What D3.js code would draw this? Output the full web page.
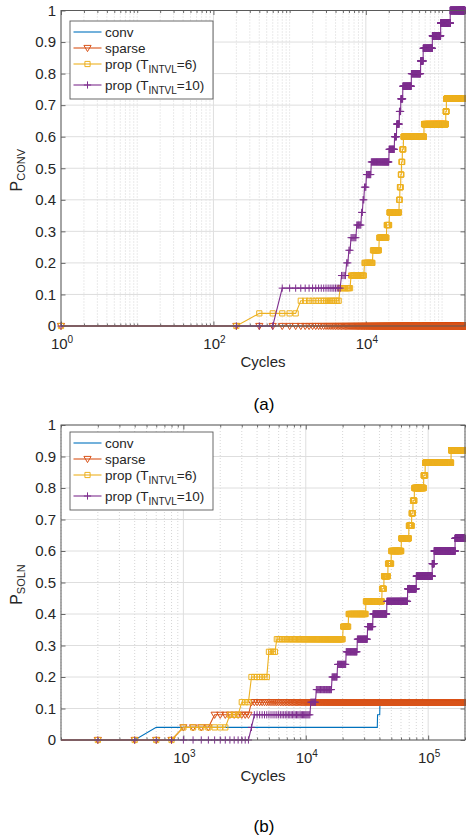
<!DOCTYPE html>
<html lang="en">
	<head>
		<meta charset="utf-8">
		<title>D3: P_CONV and P_SOLN vs cycles</title>
		<script type="text/javascript" src="https://cdn.jsdelivr.net/npm/d3@7"></script>
		<style type="text/css">
			body { margin: 0; background: white; }
			svg { display: block; font-family: "Liberation Sans", Arial, sans-serif; }
		</style>
	</head>
	<body>
		<script type="text/javascript">

			//Runs were sampled every 200 cycles, up to 2e5
			var sampleStep = 200;
			var lastCycle = 200000;

			//Series colours / markers (legend order)
			var seriesColors = ["#0072BD", "#D95319", "#EDB120", "#7E2F8E"];
			var seriesMarkers = ["none", "triangle", "square", "plus"];
			var legendMain = ["conv", "sparse", "prop (T", "prop (T"];
			var legendSub = ["", "", "INTVL", "INTVL"];
			var legendTail = ["", "", "=6)", "=10)"];

			//Tick values and labels
			var yTicks = [0, 0.1, 0.2, 0.3, 0.4, 0.5, 0.6, 0.7, 0.8, 0.9, 1];
			var yTickLabels = ["0", "0.1", "0.2", "0.3", "0.4", "0.5", "0.6", "0.7", "0.8", "0.9", "1"];
			var xTicksA = [1, 100, 10000];
			var xTickExpA = ["0", "2", "4"];
			var xTicksB = [1000, 10000, 100000];
			var xTickExpB = ["3", "4", "5"];

			//(a) P_CONV: [cycle at which the fraction is first reached, fraction]
			var convA = [[1, 0]];
			var sparseA = [[1, 0]];
			var prop6A = [[1, 0], [400, 0.04], [1400, 0.08], [4600, 0.12], [6400, 0.16], [9600, 0.20],
				[12400, 0.24], [15000, 0.28], [18800, 0.32], [20400, 0.36], [27400, 0.40], [28000, 0.44],
				[28800, 0.48], [29400, 0.52], [30200, 0.56], [31200, 0.60], [58000, 0.64], [112000, 0.68],
				[114000, 0.72]];
			var prop10A = [[1, 0], [800, 0.12], [4800, 0.16], [5600, 0.20], [6000, 0.24], [6400, 0.28],
				[7600, 0.32], [8800, 0.36], [9200, 0.40], [9600, 0.44], [10200, 0.48], [11800, 0.52],
				[20200, 0.56], [23800, 0.60], [25400, 0.64], [27600, 0.68], [28800, 0.72], [30600, 0.76],
				[39600, 0.80], [52400, 0.84], [56600, 0.88], [74600, 0.92], [96000, 0.96], [128000, 1.00]];

			//(b) P_SOLN
			var convB = [[1, 0], [600, 0.04], [38600, 0.08], [40400, 0.12]];
			var sparseB = [[1, 0], [1000, 0.04], [1800, 0.08], [3600, 0.12]];
			var prop6B = [[1, 0], [1000, 0.04], [2400, 0.08], [3000, 0.12], [3600, 0.20], [5000, 0.28],
				[5800, 0.32], [20200, 0.36], [22400, 0.40], [31000, 0.44], [42000, 0.48], [43600, 0.52],
				[47000, 0.56], [50000, 0.60], [60400, 0.64], [69600, 0.68], [73400, 0.72], [75200, 0.76],
				[77200, 0.80], [92000, 0.84], [94600, 0.88], [154000, 0.92]];
			var prop10B = [[1, 0], [3600, 0.04], [3800, 0.08], [11000, 0.12], [12200, 0.16], [16400, 0.20],
				[18200, 0.24], [21400, 0.28], [26400, 0.32], [32000, 0.36], [35400, 0.40], [46000, 0.44],
				[68000, 0.48], [80000, 0.52], [108000, 0.56], [112000, 0.60], [166000, 0.64]];

			//Width and height
			var w = 466;
			var h = 837;
			var plotLeft = 61;
			var plotRight = 465;
			var axisColor = "#262626";
			var boxColor = "#5a5a5a";

			var svg = d3.select("body")
						.append("svg")
						.attr("width", w)
						.attr("height", h);

			var sampleCycles = [1].concat(d3.range(sampleStep, lastCycle + 1, sampleStep));

			//fraction recorded at cycle c
			function valueAt(steps, c) {
				var v = 0;
				steps.forEach(function(s) { if (s[0] <= c) v = s[1]; });
				return v;
			}

			function markerPath(type, px, py) {
				if (type == "triangle") return "M" + (px - 3.6) + "," + (py - 2.6) + "h7.2l-3.6,6.2z";
				if (type == "square") return "M" + (px - 2.6) + "," + (py - 2.6) + "h5.2v5.2h-5.2z";
				if (type == "plus") return "M" + (px - 3.6) + "," + py + "h7.2M" + px + "," + (py - 3.6) + "v7.2";
				return "";
			}

			function drawPanel(p) {
				var x = d3.scaleLog().domain(p.xDomain).range([plotLeft, plotRight]);
				var y = d3.scaleLinear().domain([0, 1]).range([p.bottom, p.top]);
				var g = svg.append("g");

				var minor = x.ticks().filter(function(t) { return p.xTicks.indexOf(t) < 0; });

				//grid
				g.selectAll(".minor").data(minor).enter().append("line")
					.attr("x1", function(d) { return x(d); })
					.attr("x2", function(d) { return x(d); })
					.attr("y1", p.top).attr("y2", p.bottom)
					.attr("stroke", "#c4c4c4").attr("stroke-width", 0.7)
					.attr("stroke-dasharray", "1,2");
				g.selectAll(".xmajor").data(p.xTicks).enter().append("line")
					.attr("x1", function(d) { return x(d); })
					.attr("x2", function(d) { return x(d); })
					.attr("y1", p.top).attr("y2", p.bottom)
					.attr("stroke", "#dedede").attr("stroke-width", 1);
				g.selectAll(".ymajor").data(yTicks).enter().append("line")
					.attr("x1", plotLeft).attr("x2", plotRight)
					.attr("y1", function(d) { return y(d); })
					.attr("y2", function(d) { return y(d); })
					.attr("stroke", "#dedede").attr("stroke-width", 1);

				//axes, ticks pointing inward
				var axes = g.append("g").attr("class", "axes");
				axes.append("g").attr("transform", "translate(0," + p.bottom + ")")
					.call(d3.axisBottom(x).tickValues(minor).tickSize(-2.5).tickFormat(""));
				axes.append("g").attr("transform", "translate(0," + p.bottom + ")")
					.call(d3.axisBottom(x).tickValues(p.xTicks).tickSize(-4.5).tickFormat(""));
				axes.append("g").attr("transform", "translate(0," + p.top + ")")
					.call(d3.axisTop(x).tickValues(minor).tickSize(-2.5).tickFormat(""));
				axes.append("g").attr("transform", "translate(0," + p.top + ")")
					.call(d3.axisTop(x).tickValues(p.xTicks).tickSize(-4.5).tickFormat(""));
				axes.append("g").attr("transform", "translate(" + plotLeft + ",0)")
					.call(d3.axisLeft(y).tickValues(yTicks).tickSize(-4.5).tickPadding(5)
						.tickFormat(function(d, i) { return yTickLabels[i]; }));
				axes.append("g").attr("transform", "translate(" + plotRight + ",0)")
					.call(d3.axisRight(y).tickValues(yTicks).tickSize(-4.5).tickFormat(""));
				axes.selectAll(".domain").remove();
				axes.selectAll("line").attr("stroke", boxColor).attr("stroke-width", 0.9);
				axes.selectAll("text").attr("font-size", "15px")
					.attr("font-family", "Liberation Sans, Arial, sans-serif").attr("fill", axisColor);

				//x tick labels 10^n
				p.xTicks.forEach(function(t, i) {
					var tx = g.append("text")
						.attr("x", x(t) + 1)
						.attr("y", p.bottom + 23)
						.attr("text-anchor", "middle")
						.attr("font-size", "15px")
						.attr("fill", axisColor);
					tx.append("tspan").text("10");
					tx.append("tspan").attr("font-size", "10px").attr("dy", -6).text(p.xExp[i]);
				});

				//clip lines to the plot, markers are left unclipped
				svg.append("clipPath").attr("id", "clip" + p.name)
					.append("rect")
					.attr("x", plotLeft).attr("y", p.top - 10)
					.attr("width", plotRight - plotLeft).attr("height", p.bottom - p.top + 20);

				var line = d3.line()
					.x(function(d) { return x(d[0]); })
					.y(function(d) { return y(d[1]); });

				p.series.forEach(function(steps, k) {
					var pts = sampleCycles.map(function(c) { return [c, valueAt(steps, c)]; });
					g.append("path")
						.attr("d", line(pts))
						.attr("clip-path", "url(#clip" + p.name + ")")
						.attr("fill", "none")
						.attr("stroke", seriesColors[k])
						.attr("stroke-width", 1.1);
					if (seriesMarkers[k] != "none") {
						var dm = pts.filter(function(d) { return d[0] >= p.xDomain[0]; })
							.map(function(d) { return markerPath(seriesMarkers[k], x(d[0]), y(d[1])); })
							.join("");
						g.append("path")
							.attr("d", dm)
							.attr("fill", "none")
							.attr("stroke", seriesColors[k])
							.attr("stroke-width", 1);
					}
				});

				//box
				g.append("rect")
					.attr("x", plotLeft).attr("y", p.top)
					.attr("width", plotRight - plotLeft).attr("height", p.bottom - p.top)
					.attr("fill", "none")
					.attr("stroke", boxColor)
					.attr("stroke-width", 1);

				//legend
				var lg = g.append("g").attr("transform", "translate(70," + p.legendTop + ")");
				lg.append("rect")
					.attr("width", 143).attr("height", 78)
					.attr("fill", "white")
					.attr("stroke", boxColor)
					.attr("stroke-width", 0.9);
				var rows = [11, 27, 43, 64];
				legendMain.forEach(function(m, k) {
					lg.append("line")
						.attr("x1", 3.5).attr("x2", 31.5)
						.attr("y1", rows[k]).attr("y2", rows[k])
						.attr("stroke", seriesColors[k]).attr("stroke-width", 1.1);
					lg.append("path")
						.attr("d", markerPath(seriesMarkers[k], 17.5, rows[k]))
						.attr("fill", "none").attr("stroke", seriesColors[k]).attr("stroke-width", 1);
					var t = lg.append("text")
						.attr("x", 35).attr("y", rows[k] + 4.5)
						.attr("font-size", "13.5px")
						.attr("fill", axisColor);
					t.append("tspan").text(m);
					if (legendSub[k]) {
						t.append("tspan").attr("font-size", "10px").attr("dy", 4).text(legendSub[k]);
						t.append("tspan").attr("dy", -4).text(legendTail[k]);
					}
				});

				//axis labels
				var yl = g.append("text")
					.attr("transform", "translate(22," + ((p.top + p.bottom) / 2 + 2) + ") rotate(-90)")
					.attr("text-anchor", "middle")
					.attr("font-size", "16px")
					.attr("fill", axisColor);
				yl.append("tspan").text("P");
				yl.append("tspan").attr("font-size", "11px").attr("dy", 3).text(p.ySub);

				g.append("text")
					.attr("x", (plotLeft + plotRight) / 2)
					.attr("y", p.bottom + 41)
					.attr("text-anchor", "middle")
					.attr("font-size", "15px")
					.attr("fill", axisColor)
					.text("Cycles");

				g.append("text")
					.attr("x", 264)
					.attr("y", p.caption)
					.attr("text-anchor", "middle")
					.attr("font-size", "17px")
					.attr("fill", "black")
					.text(p.name == "a" ? "(a)" : "(b)");
			}

			drawPanel({
				name: "a", top: 10.5, bottom: 326, xDomain: [1, lastCycle],
				xTicks: xTicksA, xExp: xTickExpA, legendTop: 21, ySub: "CONV", caption: 410,
				series: [convA, sparseA, prop6A, prop10A]
			});
			drawPanel({
				name: "b", top: 425, bottom: 740, xDomain: [100, lastCycle],
				xTicks: xTicksB, xExp: xTickExpB, legendTop: 432, ySub: "SOLN", caption: 832,
				series: [convB, sparseB, prop6B, prop10B]
			});

		</script>
	</body>
</html>
